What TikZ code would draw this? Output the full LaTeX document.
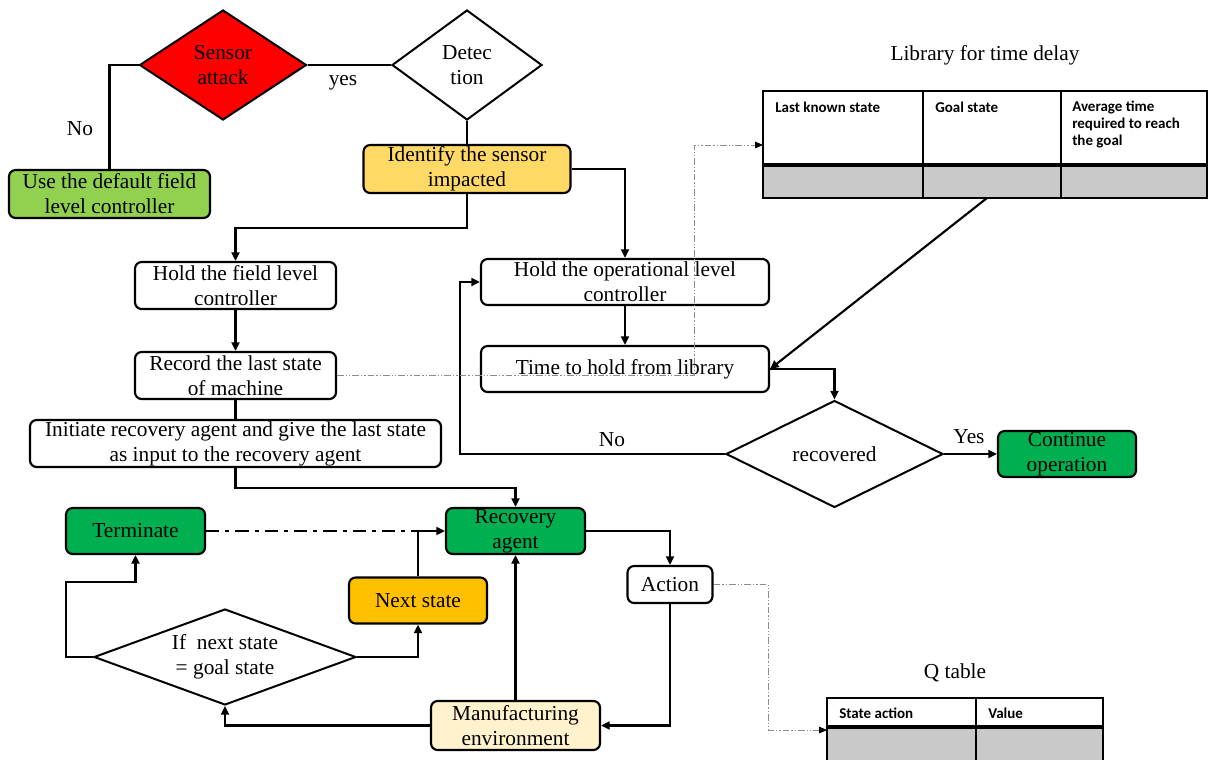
\documentclass[tikz,border=0pt]{standalone}
\usepackage{fontspec}
\setmainfont{Liberation Serif}
\newfontfamily\tabfont{Carlito}
\usetikzlibrary{shapes.geometric,arrows.meta}
\newcommand\mainfs{\fontsize{16}{18.75}\selectfont}
\newcommand\tabfs{\tabfont\bfseries\fontsize{11.25}{12.6}\selectfont}
\definecolor{attackred}{HTML}{FF0000}
\definecolor{fieldgreen}{HTML}{92D050}
\definecolor{identyellow}{HTML}{FFD966}
\definecolor{okgreen}{HTML}{00B050}
\definecolor{nextorange}{HTML}{FFC000}
\definecolor{envcream}{HTML}{FFF2CC}
\definecolor{cellgray}{HTML}{C9C9C9}
\definecolor{linkgray}{HTML}{8C8C8C}
\tikzset{
  box/.style={draw=black, line width=1.6pt, rounded corners=5pt, inner sep=0pt,
    align=center, font=\mainfs},
  dia/.style={draw=black, line width=1.5pt, diamond, inner sep=0pt,
    align=center, font=\mainfs},
  lbl/.style={inner sep=0pt, font=\mainfs},
  tabtext/.style={inner sep=0pt, align=left, font=\tabfs},
  ln/.style={line width=1.6pt, line join=miter},
  arr/.style={ln, -{Triangle[length=6.5pt,width=6pt]}},
  ddthin/.style={draw=linkgray, line width=0.6pt,
    dash pattern=on 5pt off 1.5pt on 1pt off 1.5pt on 1pt off 1.5pt,
    -{Triangle[length=6pt,width=5pt,color=black]}},
  ddthick/.style={line width=1.9pt, dash pattern=on 10pt off 4.5pt on 3pt off 4.5pt},
  tabline/.style={line width=1.2pt},
  tabrule/.style={line width=2.4pt}
}
\begin{document}
\begin{tikzpicture}[x=0.75pt,y=-0.75pt]
\useasboundingbox (0,0) rectangle (1210,760);

% helper coordinates for the routed connectors
\coordinate (yA) at (0,228);
\coordinate (yB) at (0,488);
\coordinate (xC) at (460,0);
\coordinate (xD) at (694,0);
\coordinate (xE) at (768,0);
\coordinate (xF) at (66,582);
\coordinate (libin) at (763,145);
\coordinate (libout) at (987,198);
\coordinate (qin) at (827,730);

% decisions
\node[dia, fill=attackred, aspect=1.5, minimum width=125.25pt, minimum height=82.5pt] (sensor) at (223,65) {Sensor\\attack};
\node[dia, fill=white, aspect=1.36, minimum width=112.5pt, minimum height=82.5pt] (detect) at (467,65) {Detec\\tion};
\node[dia, fill=white, aspect=2, minimum width=162.75pt, minimum height=80.25pt] (recovered) at (834.5,454) {recovered};
\node[dia, fill=white, aspect=2.73, minimum width=196.5pt, minimum height=72pt] (ifnext) at (225,657) {If~~next state\\= goal state};

% process steps
\node[box, fill=fieldgreen, minimum width=150.75pt, minimum height=36pt] (usedef) at (109.5,194) {Use the default field\\level controller};
\node[box, fill=identyellow, minimum width=155.25pt, minimum height=36pt] (identify) at (467,169) {Identify the sensor\\impacted};
\node[box, fill=white, minimum width=150.75pt, minimum height=35.25pt] (holdfield) at (235.5,285.5) {Hold the field level\\controller};
\node[box, fill=white, minimum width=150.75pt, minimum height=35.25pt] (record) at (235.5,375.5) {Record the last state\\of machine};
\node[box, fill=white, minimum width=308.25pt, minimum height=35.25pt] (initiate) at (235.5,443.5) {Initiate recovery agent and give the last state\\as input to the recovery agent};
\node[box, fill=white, minimum width=216pt, minimum height=34.5pt] (holdop) at (625,282) {Hold the operational level\\controller};
\node[box, fill=white, minimum width=216pt, minimum height=34.5pt] (timehold) at (625,369) {Time to hold from library};
\node[box, fill=okgreen, minimum width=103.5pt, minimum height=34.5pt] (continue) at (1067,454) {Continue\\operation};
\node[box, fill=okgreen, minimum width=104.25pt, minimum height=34.5pt] (recovery) at (515.5,531) {Recovery\\agent};
\node[box, fill=okgreen, minimum width=104.25pt, minimum height=34.5pt] (terminate) at (135.5,531) {Terminate};
\node[box, fill=nextorange, minimum width=103.5pt, minimum height=34.5pt] (nextstate) at (418,600.5) {Next state};
\node[box, fill=white, minimum width=63.75pt, minimum height=27.75pt] (action) at (670,584.5) {Action};
\node[box, fill=envcream, minimum width=126.75pt, minimum height=36.75pt] (manuf) at (515.5,725.5) {Manufacturing\\environment};

% branch labels
\node[lbl] (lblno1) at (80,129) {No};
\node[lbl] (lblyes1) at (343,83) {yes};
\node[lbl] (lblno2) at (612,440) {No};
\node[lbl] (lblyes2) at (969,437) {Yes};

% library for time delay
\node[lbl] (libtitle) at (985,55) {Library for time delay};
\fill[cellgray] (763,165) rectangle (1207,198);
\draw[tabline] (763,91) rectangle (1207,198);
\draw[tabline] (923,91) -- (923,198);
\draw[tabline] (1061,91) -- (1061,198);
\draw[tabrule] (763,165) -- (1207,165);
\node[tabtext, anchor=base west] (libc1) at (775,112) {Last known state};
\node[tabtext, anchor=base west] (libc2) at (935,112) {Goal state};
\node[tabtext, anchor=north west] (libc3) at (1072,101) {Average time\\required to reach\\the goal};

% Q table
\node[lbl] (qtitle) at (955,673) {Q table};
\fill[cellgray] (827,727) rectangle (1103,770);
\draw[tabline] (827,770) -- (827,698) -- (1103,698) -- (1103,770);
\draw[tabline] (976,698) -- (976,770);
\draw[tabrule] (827,727) -- (1103,727);
\node[tabtext, anchor=base west] (qc1) at (839,718) {State action};
\node[tabtext, anchor=base west] (qc2) at (988,718) {Value};

% detection chain
\draw[ln] (sensor.west) -| (usedef.north);
\draw[ln] (sensor.east) -- (detect.west);
\draw[ln] (detect.south) -- (identify.north);
\draw[arr] (identify.south) -- (identify.south |- yA) -| (holdfield.north);
\draw[arr] (identify.east) -| (holdop.north);

% field level branch
\draw[arr] (holdfield.south) -- (record.north);
\draw[ln] (record.south) -- (initiate.north);
\draw[arr] (initiate.south) -- (initiate.south |- yB) -| (recovery.north);

% operational level branch
\draw[arr] (holdop.south) -- (timehold.north);
\draw[arr] (timehold.east) -| (recovered.north);
\draw[arr] (recovered.east) -- (continue.west);
\draw[arr] (recovered.west) -- (recovered.west -| xC) |- (holdop.west);
\draw[arr] (libout) -- (timehold.east);
\draw[ddthin] (record.east) -- (record.east -| xD) |- (libin);

% recovery agent loop
\draw[ddthick] (terminate.east) -- (nextstate.north |- terminate.east);
\draw[arr] (nextstate.north) |- (recovery.west);
\draw[arr] (recovery.east) -| (action.north);
\draw[arr] (action.south) |- (manuf.east);
\draw[arr] (manuf.north) -- (recovery.south);
\draw[arr] (manuf.west) -| (ifnext.south);
\draw[arr] (ifnext.east) -| (nextstate.south);
\draw[arr] (ifnext.west) -| (xF) -| (terminate.south);
\draw[ddthin] (action.east) -- (action.east -| xE) |- (qin);
\end{tikzpicture}
\end{document}
